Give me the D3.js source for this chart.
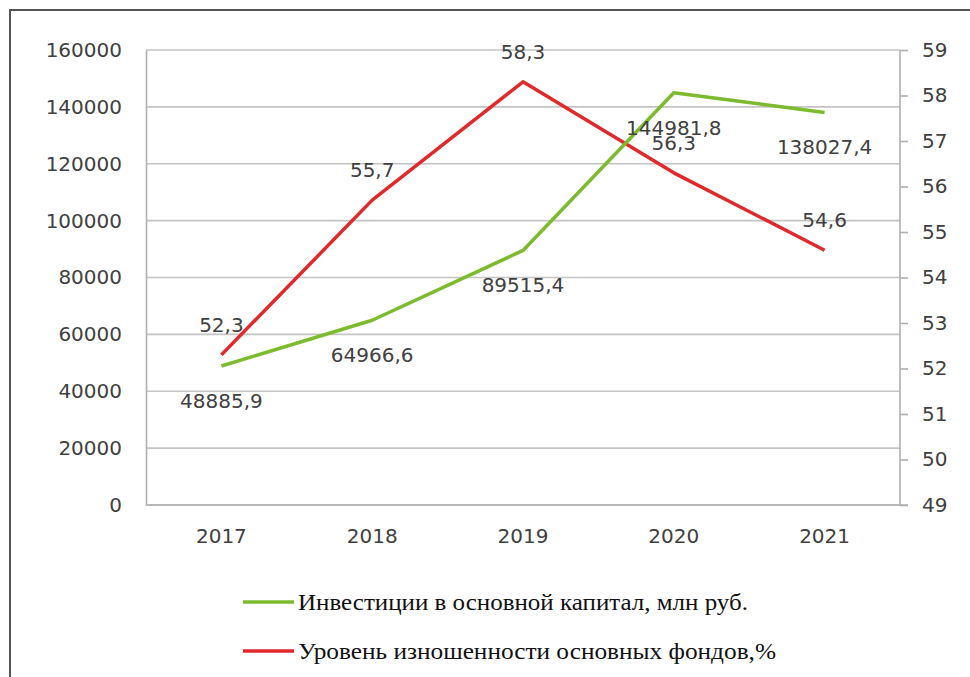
<!DOCTYPE html>
<html>
<head>
<meta charset="utf-8">
<script src="https://cdn.jsdelivr.net/npm/d3@7"></script>
<style>
  body { margin: 0; background: #fff; }
  svg { display: block; }
</style>
</head>
<body>
<div id="chart"></div>
<script>
// data
var years = ["2017", "2018", "2019", "2020", "2021"];
var investments = [48885.9, 64966.6, 89515.4, 144981.8, 138027.4];
var wear = [52.3, 55.7, 58.3, 56.3, 54.6];
var invLabels = ["48885,9", "64966,6", "89515,4", "144981,8", "138027,4"];
var wearLabels = ["52,3", "55,7", "58,3", "56,3", "54,6"];
var leftTicks = [0, 20000, 40000, 60000, 80000, 100000, 120000, 140000, 160000];
var rightTicks = [49, 50, 51, 52, 53, 54, 55, 56, 57, 58, 59];
var legendNames = ["Инвестиции в основной капитал, млн руб.", "Уровень изношенности основных фондов,%"];

var width = 970, height = 677,
    plotLeft = 146, plotRight = 900, plotTop = 50, plotBottom = 505;

var green = "#7cbb2e", red = "#e0292b";

var svg = d3.select("#chart").append("svg")
    .attr("width", width)
    .attr("height", height);

// outer frame of the picture (cut off at right and bottom)
svg.append("rect")
    .attr("x", 10).attr("y", 10)
    .attr("width", 1000).attr("height", 720)
    .style("fill", "none")
    .style("stroke", "#555")
    .style("stroke-width", 2);

var x = d3.scaleBand().domain(years).range([plotLeft, plotRight]);
var yL = d3.scaleLinear().domain([0, 160000]).range([plotBottom, plotTop]);
var yR = d3.scaleLinear().domain([49, 59]).range([plotBottom, plotTop]);

// gridlines
svg.append("g").selectAll("line")
    .data(leftTicks)
    .enter().append("line")
    .attr("x1", plotLeft).attr("x2", plotRight)
    .attr("y1", d => yL(d)).attr("y2", d => yL(d))
    .style("stroke", "#c4c4c4")
    .style("stroke-width", 1.6);

// left axis
var axL = svg.append("g")
    .attr("transform", "translate(" + plotLeft + ",0)")
    .call(d3.axisLeft(yL).tickValues(leftTicks).tickSize(0).tickPadding(24).tickFormat(d3.format("d")));
axL.select(".domain").style("stroke", "#b0b0b0").style("stroke-width", 1.6);
axL.selectAll("text")
    .style("font-family", "DejaVu Sans")
    .style("font-size", "20px")
    .style("fill", "#404040");

// right axis
var axR = svg.append("g")
    .attr("transform", "translate(" + plotRight + ",0)")
    .call(d3.axisRight(yR).tickValues(rightTicks).tickSize(8).tickPadding(14).tickFormat(d3.format("d")));
axR.select(".domain").style("stroke", "#b0b0b0").style("stroke-width", 1.6).attr("d", "M0," + plotTop + "V" + plotBottom);
axR.selectAll("line").style("stroke", "#b0b0b0").style("stroke-width", 1.6);
axR.selectAll("text")
    .style("font-family", "DejaVu Sans")
    .style("font-size", "20px")
    .style("fill", "#404040");

// bottom axis
var axB = svg.append("g")
    .attr("transform", "translate(0," + plotBottom + ")")
    .call(d3.axisBottom(x).tickSize(0).tickPadding(24));
axB.select(".domain").style("stroke", "#b0b0b0").style("stroke-width", 1.6).attr("d", "M" + plotLeft + ",0H" + (plotRight + 8));
axB.selectAll("text")
    .style("font-family", "DejaVu Sans")
    .style("font-size", "20px")
    .style("fill", "#404040");

var cx = d => x(d) + x.bandwidth() / 2;

var lineL = d3.line().x((d, i) => cx(years[i])).y(d => yL(d));
var lineR = d3.line().x((d, i) => cx(years[i])).y(d => yR(d));

svg.append("path")
    .datum(wear)
    .attr("d", lineR)
    .style("fill", "none")
    .style("stroke", red)
    .style("stroke-width", 3.5)
    .style("stroke-linejoin", "round");

svg.append("path")
    .datum(investments)
    .attr("d", lineL)
    .style("fill", "none")
    .style("stroke", green)
    .style("stroke-width", 3.5)
    .style("stroke-linejoin", "round");

// data labels
svg.append("g").selectAll("text")
    .data(investments)
    .enter().append("text")
    .attr("x", (d, i) => cx(years[i]))
    .attr("y", d => yL(d) + 42)
    .attr("text-anchor", "middle")
    .style("font-family", "DejaVu Sans")
    .style("font-size", "20px")
    .style("fill", "#404040")
    .text((d, i) => invLabels[i]);

svg.append("g").selectAll("text")
    .data(wear)
    .enter().append("text")
    .attr("x", (d, i) => cx(years[i]))
    .attr("y", d => yR(d) - 23)
    .attr("text-anchor", "middle")
    .style("font-family", "DejaVu Sans")
    .style("font-size", "20px")
    .style("fill", "#404040")
    .text((d, i) => wearLabels[i]);

// legend
var legend = svg.append("g").selectAll("g")
    .data(legendNames)
    .enter().append("g")
    .attr("transform", (d, i) => "translate(0," + (602 + i * 49) + ")");

legend.append("line")
    .attr("x1", 243).attr("x2", 294)
    .attr("y1", 0).attr("y2", 0)
    .style("stroke", (d, i) => i == 0 ? green : red)
    .style("stroke-width", 3.5);

legend.append("text")
    .attr("x", 298)
    .attr("y", 8)
    .attr("textLength", (d, i) => i == 0 ? 450 : 478)
    .attr("lengthAdjust", "spacingAndGlyphs")
    .style("font-family", "Liberation Serif")
    .style("font-size", "24px")
    .style("fill", "#111")
    .text(d => d);
</script>
</body>
</html>
